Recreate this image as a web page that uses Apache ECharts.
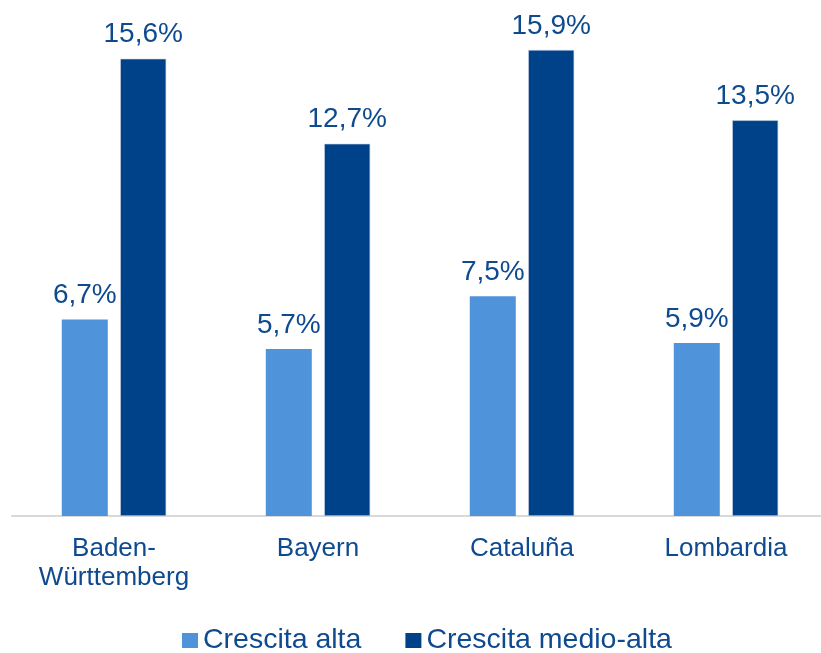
<!DOCTYPE html>
<html>
<head>
<meta charset="utf-8">
<script src="https://cdn.jsdelivr.net/npm/echarts@6/dist/echarts.min.js"></script>
<style>
html,body{margin:0;padding:0;background:#fff;}
#chart{width:821px;height:653px;}
</style>
</head>
<body>
<div id="chart"></div>
<script>
const categories = ['Baden-\nWürttemberg', 'Bayern', 'Cataluña', 'Lombardia'];
const seriesNames = ['Crescita alta', 'Crescita medio-alta'];
const crescitaAlta = [6.7, 5.7, 7.5, 5.9];
const crescitaMedioAlta = [15.6, 12.7, 15.9, 13.5];

const textColor = '#0f4a8f';
const fontFamily = '"Liberation Sans", Arial, sans-serif';

const chart = echarts.init(document.getElementById('chart'));
const labelCfg = {
  show: true,
  position: 'top',
  distance: 10,
  color: textColor,
  fontSize: 28,
  fontFamily: fontFamily,
  formatter: p => p.value.toFixed(1).replace('.', ',') + '%'
};
chart.setOption({
  animation: false,
  backgroundColor: '#fff',
  grid: { left: 12, top: 47, right: -7, bottom: 137, containLabel: false, outerBoundsMode: 'none' },
  legend: {
    data: seriesNames,
    top: 626,
    left: 182,
    padding: 0,
    itemWidth: 16,
    itemHeight: 15,
    itemGap: 44,
    icon: 'rect',
    itemStyle: { borderWidth: 0 },
    textStyle: { color: textColor, fontSize: 28.5, fontFamily: fontFamily, padding: [0, 0, 0, 0] }
  },
  xAxis: {
    type: 'category',
    data: categories,
    axisLine: { show: true, lineStyle: { color: '#d9d9d9', width: 2 } },
    axisTick: { show: false },
    axisLabel: {
      color: textColor,
      fontSize: 26,
      fontFamily: fontFamily,
      margin: 18,
      lineHeight: 29,
      interval: 0
    }
  },
  yAxis: {
    type: 'value',
    min: 0,
    max: 16,
    show: false,
    splitLine: { show: false }
  },
  series: [
    {
      name: seriesNames[0],
      type: 'bar',
      data: crescitaAlta,
      barWidth: 46,
      barGap: '27%',
      itemStyle: { color: '#4f93db' },
      label: labelCfg
    },
    {
      name: seriesNames[1],
      type: 'bar',
      data: crescitaMedioAlta,
      barWidth: 46,
      itemStyle: { color: '#00428a', borderColor: '#c9d6e6', borderWidth: 0.6 },
      label: labelCfg
    }
  ]
});
</script>
</body>
</html>
